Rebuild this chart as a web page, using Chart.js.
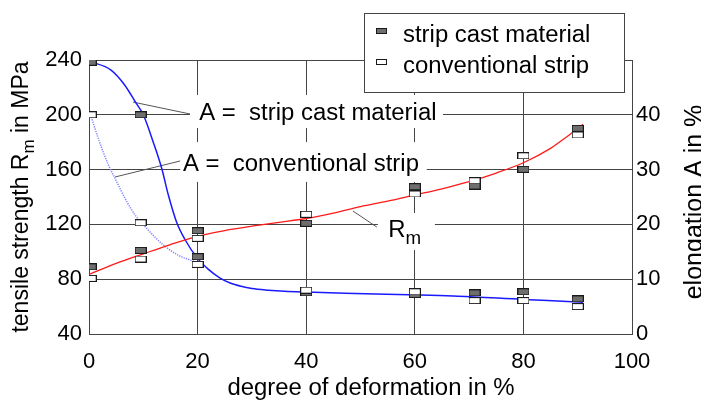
<!DOCTYPE html>
<html><head><meta charset="utf-8">
<script src="https://cdn.jsdelivr.net/npm/chart.js@4/dist/chart.umd.min.js"></script>
<style>html,body{margin:0;padding:0;background:#fff;overflow:hidden}#wrap{width:701px;height:402px;position:relative}</style>
</head><body><div id="wrap"><canvas id="c" width="701" height="402"></canvas></div>
<script>
// ---------- data ----------
const deformation = [0.3, 9.5, 20, 40, 60, 71, 80, 90];
const rmStripCast = [89, 101, 115.4, 120.8, 147.5, 148, 160.2, 190.1];
const rmConventional = [80.6, 94.7, 109.8, 127.4, 142.2, 151.9, 170.1, 185.3];
const elongStripCast = [49.6, 40, 14.1, 7.5, 7.2, 7.5, 7.7, 6.4];
const elongConventional = [40, 20.3, 12.7, 8.0, 7.7, 6.1, 6.1, 5.0];

const rmFitX = [0, 5, 10, 15, 20, 25, 30, 35, 40, 45, 50, 55, 60, 65, 70, 75, 80, 85, 88, 91];
const rmFitY = [83.5, 91.5, 98.5, 105.3, 111.3, 115.5, 118.7, 121.5, 124.3, 128.3, 133, 137, 141.5, 146, 151.2, 157.5, 165, 175.5, 184, 193];
const aStripFitX = [0.3, 4, 6.6, 8.5, 10, 11.8, 13.4, 14.6, 16.1, 17.7, 20, 22, 24, 26, 28, 30, 33, 36, 40, 49, 61, 68, 80, 89, 91];
const aStripFitY = [49.7, 48.2, 45.4, 42.4, 40, 35.1, 30.2, 25.4, 20.5, 17.2, 13.8, 11.8, 10.3, 9.3, 8.7, 8.3, 8.0, 7.8, 7.65, 7.4, 7.1, 6.9, 6.3, 5.9, 5.8];
const aConvFitX = [0.3, 1.7, 3.6, 5.1, 6.6, 8.5, 10.6, 13.4, 16.4, 19.5, 21];
const aConvFitY = [40, 35.7, 30.8, 27.8, 24.8, 21.7, 19.3, 16.5, 14.4, 13.2, 12.7];

const xTicks = [0, 20, 40, 60, 80, 100];
const rmTicks = [40, 80, 120, 160, 200, 240];
const aTicks = [0, 10, 20, 30, 40];

const legendLabels = ['strip cast material', 'conventional strip'];
const xTitle = 'degree of deformation in %';
const yTitle = [['tensile strength R', false], ['m', true], [' in MPa', false]];
const y2Title = 'elongation A in %';
const annotationTexts = [
  [['A =  strip cast material', false]],
  [['A =  conventional strip', false]],
  [['R', false], ['m', true]]
];

// ---------- helpers ----------
const FONT = "'Liberation Sans', Arial, sans-serif";
const SX = 1.04;
function makeMarker(fill, w, h) {
  const c = document.createElement('canvas');
  c.width = w; c.height = h;
  const g = c.getContext('2d');
  g.fillStyle = fill; g.fillRect(0, 0, w, h);
  g.strokeStyle = '#1a1a1a'; g.lineWidth = 1; g.strokeRect(0.5, 0.5, w - 1, h - 1);
  return c;
}
const grayMarker = makeMarker('#6e6e6e', 12, 7);
const whiteMarker = makeMarker('#ffffff', 12, 7);
const grayLegend = makeMarker('#6e6e6e', 11, 6);
const whiteLegend = makeMarker('#ffffff', 11, 6);

function pts(xs, ys) { return xs.map((v, i) => ({x: v, y: ys[i]})); }

function drawRich(ctx, parts, size, subSize, subDrop, align) {
  ctx.textBaseline = 'alphabetic';
  let total = 0;
  const widths = parts.map(p => { ctx.font = (p[1] ? subSize : size) + 'px ' + FONT; const w = ctx.measureText(p[0]).width; total += w; return w; });
  let x0 = align === 'center' ? -total / 2 : 0;
  ctx.save(); ctx.scale(SX, 1);
  ctx.textAlign = 'left';
  parts.forEach((p, i) => {
    ctx.font = (p[1] ? subSize : size) + 'px ' + FONT;
    ctx.fillText(p[0], x0, p[1] ? subDrop : 0);
    x0 += widths[i];
  });
  ctx.restore();
}

// annotation geometry in data units (x in %, y in MPa)
const annotations = [
  {text: 0, at: [20.3, 196.4], from: [8.1, 209.3], to: [18.6, 200.6], box: [18.6, 65.2, 214.5, 190.4]},
  {text: 1, at: [17.3, 159.2], from: [4.8, 154.6], to: [16.8, 166.3], box: [16.8, 62.2, 180.1, 151.0]},
  {text: 2, at: [55.1, 111.0], from: [48.6, 129.8], to: [53.0, 118.1], box: [53.2, 63.7, 128.3, 101.3]}
];

const annotPlugin = {
  id: 'annot',
  beforeDatasetsDraw(chart) {
    const {ctx, scales: {x, y}} = chart;
    ctx.save();
    ctx.fillStyle = '#fff';
    annotations.forEach(a => {
      const l = x.getPixelForValue(a.box[0]), r = x.getPixelForValue(a.box[1]);
      const t = y.getPixelForValue(a.box[2]), b = y.getPixelForValue(a.box[3]);
      ctx.fillRect(l, t, r - l, b - t);
    });
    ctx.strokeStyle = '#555'; ctx.lineWidth = 1;
    annotations.forEach(a => {
      ctx.beginPath();
      ctx.moveTo(x.getPixelForValue(a.from[0]), y.getPixelForValue(a.from[1]));
      ctx.lineTo(x.getPixelForValue(a.to[0]), y.getPixelForValue(a.to[1]));
      ctx.stroke();
    });
    ctx.fillStyle = '#000';
    annotations.forEach(a => {
      ctx.save();
      ctx.translate(x.getPixelForValue(a.at[0]), y.getPixelForValue(a.at[1]));
      drawRich(ctx, annotationTexts[a.text], 23, 18, 7, 'left');
      ctx.restore();
    });
    ctx.restore();
  },
  afterDraw(chart) {
    const {ctx, chartArea: ca} = chart;
    ctx.save();
    const L = 364, T = 13, W = 260, H = 79;
    ctx.fillStyle = '#fff'; ctx.fillRect(L, T, W, H);
    ctx.strokeStyle = '#444'; ctx.lineWidth = 1; ctx.strokeRect(L + 0.5, T + 0.5, W, H);
    const marks = [grayLegend, whiteLegend];
    const rows = [42, 73];
    legendLabels.forEach((lab, i) => {
      ctx.drawImage(marks[i], L + 12, rows[i] - 14);
      ctx.fillStyle = '#000';
      ctx.save(); ctx.translate(L + 39, rows[i]);
      drawRich(ctx, [[lab, false]], 23, 18, 0, 'left');
      ctx.restore();
    });
    ctx.fillStyle = '#000';
    ctx.save(); ctx.translate(371, 395);
    drawRich(ctx, [[xTitle, false]], 23, 18, 0, 'center');
    ctx.restore();
    ctx.save(); ctx.translate(28, (ca.top + ca.bottom) / 2); ctx.rotate(-Math.PI / 2);
    ctx.textBaseline = 'alphabetic';
    let total = 0;
    const ws = yTitle.map(p => { ctx.font = (p[1] ? 17 : 23) + 'px ' + FONT; const w = ctx.measureText(p[0]).width; total += w; return w; });
    let x0 = -total / 2;
    yTitle.forEach((p, i) => { ctx.font = (p[1] ? 17 : 23) + 'px ' + FONT; ctx.fillText(p[0], x0, p[1] ? 6 : 0); x0 += ws[i]; });
    ctx.restore();
    ctx.save(); ctx.translate(702, 202); ctx.rotate(-Math.PI / 2);
    ctx.font = '25px ' + FONT; ctx.textAlign = 'center'; ctx.textBaseline = 'alphabetic';
    ctx.fillText(y2Title, 0, 0);
    ctx.restore();
    ctx.restore();
  }
};

const tickFont = {family: FONT, size: 22};
const gridColor = '#454545';

new Chart(document.getElementById('c'), {
  type: 'line',
  data: {
    datasets: [
      {label: 'conventional strip Rm', data: pts(deformation, rmConventional), yAxisID: 'y', showLine: false, pointStyle: whiteMarker, pointRadius: 6},
      {label: 'conventional strip A', data: pts(deformation, elongConventional), yAxisID: 'y2', showLine: false, pointStyle: whiteMarker, pointRadius: 6},
      {label: 'strip cast material Rm', data: pts(deformation, rmStripCast), yAxisID: 'y', showLine: false, pointStyle: grayMarker, pointRadius: 6},
      {label: 'strip cast material A', data: pts(deformation, elongStripCast), yAxisID: 'y2', showLine: false, pointStyle: grayMarker, pointRadius: 6},
      {label: 'Rm fit', data: pts(rmFitX, rmFitY), yAxisID: 'y', borderColor: '#ff1a1a', borderWidth: 1.3, pointRadius: 0, cubicInterpolationMode: 'monotone', fill: false},
      {label: 'A strip cast fit', data: pts(aStripFitX, aStripFitY), yAxisID: 'y2', borderColor: '#1a1aff', borderWidth: 1.5, pointRadius: 0, cubicInterpolationMode: 'monotone', fill: false},
      {label: 'A conventional fit', data: pts(aConvFitX, aConvFitY), yAxisID: 'y2', borderColor: '#8080ff', borderWidth: 1.5, borderDash: [1.2, 1.2], pointRadius: 0, cubicInterpolationMode: 'monotone', fill: false}
    ]
  },
  options: {
    responsive: false, animation: false, devicePixelRatio: 1,
    layout: {padding: {top: 60, left: 0, right: 0, bottom: 0}},
    plugins: {legend: {display: false}, tooltip: {enabled: false}},
    scales: {
      x: {type: 'linear', min: 0, max: 100, position: 'bottom',
        afterFit: s => { s.height = 68; },
        afterBuildTicks: s => { s.ticks = xTicks.map(v => ({value: v})); },
        ticks: {font: tickFont, color: '#000', padding: 15, maxRotation: 0},
        grid: {color: gridColor, lineWidth: 1, drawTicks: false},
        border: {color: gridColor}},
      y: {type: 'linear', min: 40, max: 240, position: 'left',
        afterFit: s => { s.width = 89; },
        afterBuildTicks: s => { s.ticks = rmTicks.map(v => ({value: v})); },
        ticks: {font: tickFont, color: '#000', padding: 7},
        grid: {color: gridColor, lineWidth: 1, drawTicks: false},
        border: {color: gridColor}},
      y2: {type: 'linear', min: 0, max: 50, position: 'right',
        afterFit: s => { s.width = 69; },
        afterBuildTicks: s => { s.ticks = aTicks.map(v => ({value: v})); },
        ticks: {font: tickFont, color: '#000', padding: 4},
        grid: {display: false, drawTicks: false},
        border: {color: gridColor}}
    }
  },
  plugins: [annotPlugin]
});
</script>
</body></html>
